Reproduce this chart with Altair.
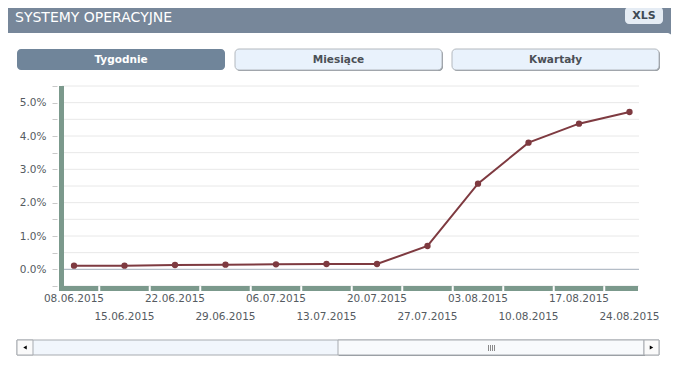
import altair as alt
import pandas as pd

# ---- data ----
dates = ["08.06.2015", "15.06.2015", "22.06.2015", "29.06.2015", "06.07.2015", "13.07.2015",
         "20.07.2015", "27.07.2015", "03.08.2015", "10.08.2015", "17.08.2015", "24.08.2015"]
values = [0.11, 0.11, 0.13, 0.14, 0.15, 0.16, 0.16, 0.70, 2.57, 3.80, 4.37, 4.72]
y_ticks = [-0.5, 0.0, 0.5, 1.0, 1.5, 2.0, 2.5, 3.0, 3.5, 4.0, 4.5, 5.0, 5.5]
title_text = "SYSTEMY OPERACYJNE"
tabs = ["Tygodnie", "Miesiące", "Kwartały"]

DAY = 86400000
epoch = pd.Timestamp("1970-01-01")
ms = [int((pd.to_datetime(d, format="%d.%m.%Y") - epoch) // pd.Timedelta(milliseconds=1))
      for d in dates]
df = pd.DataFrame({
    "t": ms,
    "label": dates,
    "value": values,
    "row": [i % 2 for i in range(len(dates))],
    "start": [m - 3.5 * DAY for m in ms],
    "end": [m + 3.5 * DAY for m in ms],
})
grid_df = pd.DataFrame({"v": y_ticks})

W, H = 577, 200
x_dom = [ms[0] - 1.663 * DAY, ms[-1] + 1.317 * DAY]
xs = alt.Scale(domain=x_dom, clamp=True)
ys = alt.Scale(domain=[-0.5, 5.5])

FONT = "DejaVu Sans"
GREEN = "#7b998c"
LINE = "#7e3a40"

yaxis = alt.Axis(values=y_ticks,
                 labelExpr="datum.value >= 0 && datum.value <= 5 && (datum.value * 2) % 2 == 0 ? format(datum.value, '.1f') + '%' : ''",
                 grid=False, domain=False, ticks=True, tickSize=5, tickColor="#c9c9c9",
                 offset=5, labelPadding=6, labelFont=FONT, labelFontSize=10.5,
                 labelColor="#555b61", title=None, zindex=1)

one = alt.Data(values=[{}])


def box(x, x2, y, y2, **kw):
    return alt.Chart(one).mark_rect(**kw).encode(
        x=alt.value(x), x2=alt.value(x2), y=alt.value(y), y2=alt.value(y2))


def label(x, y, text, **kw):
    return alt.Chart(one).mark_text(text=text, font=FONT, **kw).encode(
        x=alt.value(x), y=alt.value(y))


def vline(x, y, y2, **kw):
    return alt.Chart(one).mark_rule(**kw).encode(
        x=alt.value(x), y=alt.value(y), y2=alt.value(y2))


layers = []
# white panel
layers.append(box(-60, 611, -53, 281, fill="white", cornerRadius=6))
# title
layers.append(label(-47, -64, title_text, align="left", baseline="alphabetic",
                    fontSize=14, color="white"))
# XLS button
layers.append(box(563, 601, -79, -62, fill="#e5ecf4", cornerRadius=4))
layers.append(label(582, -70.5, "XLS", align="center", baseline="middle",
                    fontSize=11, fontWeight="bold", color="#3f4a55"))
# tab buttons
tab_x = [(-45, 163), (173, 380), (390, 597)]
for i, (name, (a, b)) in enumerate(zip(tabs, tab_x)):
    if i == 0:
        layers.append(box(a, b, -37, -16, fill="#70859a", cornerRadius=4))
        col = "white"
    else:
        layers.append(box(a + 1, b + 1, -36, -15, fill="#8e949a", cornerRadius=4))
        layers.append(box(a, b, -37, -16, fill="#e9f2fc", stroke="#b3b8be",
                          strokeWidth=1, cornerRadius=4))
        col = "#4b5056"
    layers.append(label((a + b) / 2, -26.5, name, align="center", baseline="middle",
                        fontSize=10.5, fontWeight="bold", color=col))

# gridlines
layers.append(alt.Chart(grid_df).mark_rule(color="#e8e8e8", strokeWidth=1).encode(
    y=alt.Y("v:Q", scale=ys, axis=yaxis)))
layers.append(alt.Chart(grid_df).transform_filter("datum.v == 0").mark_rule(
    color="#a9b4c0", strokeWidth=1).encode(y=alt.Y("v:Q", scale=ys, axis=yaxis)))

# green axis bars
layers.append(box(-3, 2, 0, 205, fill=GREEN))
layers.append(alt.Chart(df).mark_rect(color=GREEN, xOffset=1, x2Offset=-1).encode(
    x=alt.X("start:T", scale=xs, axis=None), x2="end:T",
    y=alt.value(200), y2=alt.value(205)))

# data line + points
layers.append(alt.Chart(df).mark_line(color=LINE, strokeWidth=2).encode(
    x=alt.X("t:T", scale=xs, axis=None),
    y=alt.Y("value:Q", scale=ys, axis=yaxis)))
layers.append(alt.Chart(df).mark_circle(color=LINE, size=40, opacity=1).encode(
    x=alt.X("t:T", scale=xs, axis=None),
    y=alt.Y("value:Q", scale=ys, axis=yaxis)))

# x labels on two rows
for r, yy in [(0, 212.5), (1, 231)]:
    layers.append(alt.Chart(df).transform_filter(f"datum.row == {r}").mark_text(
        font=FONT, fontSize=10.5, color="#555b61", align="center", baseline="middle").encode(
        x=alt.X("t:T", scale=xs, axis=None), y=alt.value(yy), text="label:N"))

# scrollbar
layers.append(box(-45, 597, 254, 269, fill="#f1f6fc", stroke="#a7abb0", strokeWidth=1))
layers.append(box(-45, -29, 254, 269, fill="#fafafa", stroke="#a7abb0", strokeWidth=1))
layers.append(box(277, 583, 255, 270, fill="#8e949a"))
layers.append(box(276, 582, 254, 269, fill="#f8fafc", stroke="#a7abb0", strokeWidth=1))
layers.append(box(582, 597, 254, 269, fill="#fafafa", stroke="#a7abb0", strokeWidth=1))
layers.append(alt.Chart(one).mark_point(shape="triangle-left", filled=True, size=16,
                                        color="black", opacity=1).encode(
    x=alt.value(-37), y=alt.value(261.5)))
layers.append(alt.Chart(one).mark_point(shape="triangle-right", filled=True, size=16,
                                        color="black", opacity=1).encode(
    x=alt.value(589.5), y=alt.value(261.5)))
for gx in [426.5, 428.5, 430.5, 432.5]:
    layers.append(vline(gx, 259, 265, color="#8a8a8a", strokeWidth=1))

chart = alt.layer(*layers).properties(
    width=W, height=H,
    autosize=alt.AutoSizeParams(type="none"),
    padding={"left": 54, "top": 78, "right": 32, "bottom": 73},
    background="#77879a",
).configure_view(stroke=None)

chart.save("out.html", embed_options={"renderer": "svg", "actions": False})
